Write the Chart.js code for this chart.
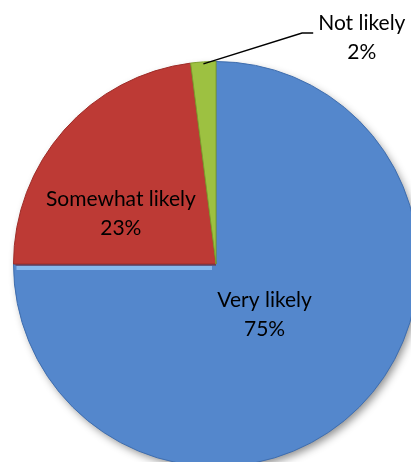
<!DOCTYPE html>
<html>
<head>
<meta charset="utf-8">
<script src="https://cdn.jsdelivr.net/npm/chart.js@4"></script>
<style>
html,body{margin:0;padding:0;background:#fff;overflow:hidden;width:411px;height:462px;}
#wrap{position:absolute;left:0;top:0;width:440px;height:470px;}
</style>
</head>
<body>
<div id="wrap"><canvas id="c"></canvas></div>
<script>
const categories = ['Very likely', 'Somewhat likely', 'Not likely'];
const values = [75, 23, 2];
const valueLabels = ['75%', '23%', '2%'];
const baseColors = ['#5487CC', '#BD3A35', '#9DC141'];
const darkColors = ['#3E6DAE', '#9E2C28', '#7C9E2C'];
const lightColors = ['#6A9BDD', '#CB4B45', '#B2D35A'];

const FONT = '21px Lato, "Open Sans", sans-serif';

const shadowPlugin = {
  id: 'pieShadow',
  beforeDatasetsDraw(chart) {
    const arc = chart.getDatasetMeta(0).data[0];
    if (!arc) return;
    const ctx = chart.ctx;
    ctx.save();
    ctx.shadowColor = 'rgba(0,0,0,0.45)';
    ctx.shadowBlur = 8;
    ctx.shadowOffsetX = 3;
    ctx.shadowOffsetY = 4;
    ctx.fillStyle = '#5487CC';
    ctx.beginPath();
    ctx.arc(arc.x, arc.y, arc.outerRadius - 1, 0, Math.PI * 2);
    ctx.fill();
    ctx.restore();
  }
};

const labelPlugin = {
  id: 'pieLabels',
  afterDatasetsDraw(chart) {
    const meta = chart.getDatasetMeta(0);
    const ctx = chart.ctx;
    const a0 = meta.data[0];
    const cx = a0.x, cy = a0.y, r = a0.outerRadius;
    ctx.save();
    // bevel highlight along the straight edge of the big slice
    const ea = a0.endAngle;
    ctx.strokeStyle = 'rgba(140,190,240,0.9)';
    ctx.lineWidth = 4;
    ctx.beginPath();
    ctx.moveTo(cx + Math.cos(ea) * (r - 3), cy + Math.sin(ea) * (r - 3) + 4);
    ctx.lineTo(cx - 4, cy + 4);
    ctx.stroke();
    ctx.strokeStyle = 'rgba(120,30,28,0.6)';
    ctx.lineWidth = 1.5;
    ctx.beginPath();
    ctx.moveTo(cx + Math.cos(ea) * (r - 2), cy + Math.sin(ea) * (r - 2) + 1);
    ctx.lineTo(cx, cy + 1);
    ctx.stroke();

    ctx.font = FONT;
    ctx.fillStyle = '#000';
    ctx.textAlign = 'center';
    ctx.textBaseline = 'middle';
    // label anchors (fractions of radius from centre)
    const anchors = [[0.24, 0.25], [-0.47, -0.25], [0.72, -1.12]];
    anchors.forEach((f, i) => {
      const x = cx + f[0] * r, y = cy + f[1] * r;
      ctx.fillText(categories[i], x, y - 14);
      ctx.fillText(valueLabels[i], x, y + 15);
    });
    // leader line for the small slice
    const g = meta.data[2];
    const mid = (g.startAngle + g.endAngle) / 2;
    const px = cx + Math.cos(mid) * (r - 2), py = cy + Math.sin(mid) * (r - 2);
    ctx.strokeStyle = '#000';
    ctx.lineWidth = 1.5;
    ctx.beginPath();
    ctx.moveTo(px, py);
    ctx.lineTo(cx + 0.425 * r, cy - 1.141 * r);
    ctx.lineTo(cx + 0.48 * r, cy - 1.141 * r);
    ctx.stroke();
    ctx.restore();
  }
};

const ctx = document.getElementById('c').getContext('2d');
new Chart(ctx, {
  type: 'pie',
  data: {
    labels: categories,
    datasets: [{
      data: values,
      backgroundColor: (c) => {
        const chart = c.chart;
        const arc = chart.getDatasetMeta(0).data[c.dataIndex];
        if (!arc || !arc.outerRadius) return baseColors[c.dataIndex];
        const g = chart.ctx.createRadialGradient(arc.x, arc.y, 0, arc.x, arc.y, arc.outerRadius);
        g.addColorStop(0, lightColors[c.dataIndex]);
        g.addColorStop(0.25, baseColors[c.dataIndex]);
        g.addColorStop(0.93, baseColors[c.dataIndex]);
        g.addColorStop(1, darkColors[c.dataIndex]);
        return g;
      },
      borderColor: darkColors,
      borderWidth: 1
    }]
  },
  options: {
    responsive: true,
    maintainAspectRatio: false,
    animation: false,
    layout: { padding: { left: 13, right: 21, top: 61, bottom: 3 } },
    plugins: {
      legend: { display: false },
      tooltip: { enabled: false }
    }
  },
  plugins: [shadowPlugin, labelPlugin]
});
</script>
</body>
</html>
